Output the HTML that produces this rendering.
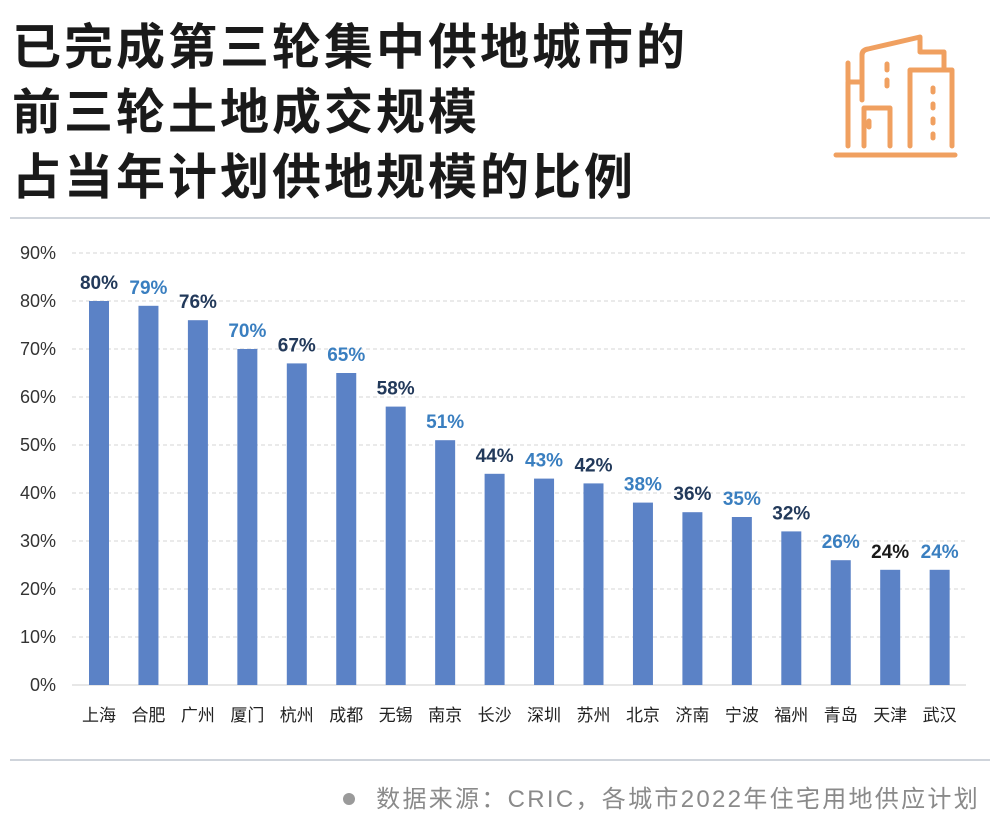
<!DOCTYPE html>
<html><head><meta charset="utf-8"><style>
body{margin:0;background:#fff;}
svg{display:block;font-family:"Liberation Sans","Noto Sans CJK SC",sans-serif;}
</style></head><body>
<svg width="1000" height="835" viewBox="0 0 1000 835" xmlns="http://www.w3.org/2000/svg">
<rect width="1000" height="835" fill="#fff"/>
<g font-size="49" font-weight="bold" fill="#1a1a1a" font-family="'Noto Sans CJK SC',sans-serif" letter-spacing="3">
<text x="12" y="64">已完成第三轮集中供地城市的</text>
<text x="12" y="129">前三轮土地成交规模</text>
<text x="12" y="194">占当年计划供地规模的比例</text>
</g>
<g fill="none" stroke="#f0a060" stroke-width="5" stroke-linecap="round" stroke-linejoin="round">
<line x1="836" y1="155" x2="955" y2="155"/>
<path d="M848 146 V82 H862"/><line x1="848" y1="63" x2="848" y2="80"/>
<path d="M864 146 V108 H890 V146"/>
<path d="M862 100 V55 Q862 50 868 49 L920 37 V52 H944 V68"/>
<path d="M910 146 V70 H952 V146"/>
<line x1="887" y1="64" x2="887" y2="70"/><line x1="887" y1="80" x2="887" y2="86"/>
<line x1="869" y1="121" x2="869" y2="127"/>
<line x1="933" y1="88" x2="933" y2="92"/><line x1="933" y1="104" x2="933" y2="108"/><line x1="933" y1="119" x2="933" y2="123"/><line x1="933" y1="134" x2="933" y2="138"/>
</g>
<line x1="10" y1="218" x2="990" y2="218" stroke="#bfc6cf" stroke-width="1.5"/>
<g stroke="#d4d4d4" stroke-dasharray="4,3" stroke-width="1">
<line x1="72" y1="253" x2="966" y2="253"/><line x1="72" y1="301" x2="966" y2="301"/><line x1="72" y1="349" x2="966" y2="349"/><line x1="72" y1="397" x2="966" y2="397"/><line x1="72" y1="445" x2="966" y2="445"/><line x1="72" y1="493" x2="966" y2="493"/><line x1="72" y1="541" x2="966" y2="541"/><line x1="72" y1="589" x2="966" y2="589"/><line x1="72" y1="637" x2="966" y2="637"/>
</g>
<line x1="72" y1="685" x2="966" y2="685" stroke="#cfcfcf"/>
<g font-size="18" fill="#333" text-anchor="end">
<text x="56" y="259">90%</text><text x="56" y="307">80%</text><text x="56" y="355">70%</text><text x="56" y="403">60%</text><text x="56" y="451">50%</text><text x="56" y="499">40%</text><text x="56" y="547">30%</text><text x="56" y="595">20%</text><text x="56" y="643">10%</text><text x="56" y="691">0%</text>
</g>
<g fill="#5b82c6">
<rect x="89" y="301" width="20" height="384"/>
<rect x="138.45" y="305.8" width="20" height="379.2"/>
<rect x="187.9" y="320.2" width="20" height="364.8"/>
<rect x="237.35" y="349" width="20" height="336"/>
<rect x="286.8" y="363.4" width="20" height="321.6"/>
<rect x="336.25" y="373" width="20" height="312"/>
<rect x="385.7" y="406.6" width="20" height="278.4"/>
<rect x="435.15" y="440.2" width="20" height="244.8"/>
<rect x="484.6" y="473.8" width="20" height="211.2"/>
<rect x="534.05" y="478.6" width="20" height="206.4"/>
<rect x="583.5" y="483.4" width="20" height="201.6"/>
<rect x="632.95" y="502.6" width="20" height="182.4"/>
<rect x="682.4" y="512.2" width="20" height="172.8"/>
<rect x="731.85" y="517" width="20" height="168"/>
<rect x="781.3" y="531.4" width="20" height="153.6"/>
<rect x="830.75" y="560.2" width="20" height="124.8"/>
<rect x="880.2" y="569.8" width="20" height="115.2"/>
<rect x="929.65" y="569.8" width="20" height="115.2"/>
</g>
<g font-size="19" font-weight="bold" text-anchor="middle">
<text x="99" y="289" fill="#22395a">80%</text>
<text x="148.45" y="293.8" fill="#3a7fc0">79%</text>
<text x="197.9" y="308.2" fill="#22395a">76%</text>
<text x="247.35" y="337" fill="#3a7fc0">70%</text>
<text x="296.8" y="351.4" fill="#22395a">67%</text>
<text x="346.25" y="361" fill="#3a7fc0">65%</text>
<text x="395.7" y="394.6" fill="#22395a">58%</text>
<text x="445.15" y="428.2" fill="#3a7fc0">51%</text>
<text x="494.6" y="461.8" fill="#22395a">44%</text>
<text x="544.05" y="466.6" fill="#3a7fc0">43%</text>
<text x="593.5" y="471.4" fill="#22395a">42%</text>
<text x="642.95" y="490.6" fill="#3a7fc0">38%</text>
<text x="692.4" y="500.2" fill="#22395a">36%</text>
<text x="741.85" y="505" fill="#3a7fc0">35%</text>
<text x="791.3" y="519.4" fill="#22395a">32%</text>
<text x="840.75" y="548.2" fill="#3a7fc0">26%</text>
<text x="890.2" y="557.8" fill="#1a1a1a">24%</text>
<text x="939.65" y="557.8" fill="#3a7fc0">24%</text>
</g>
<g font-size="17" fill="#222" text-anchor="middle">
<text x="99" y="721">上海</text><text x="148.45" y="721">合肥</text><text x="197.9" y="721">广州</text><text x="247.35" y="721">厦门</text><text x="296.8" y="721">杭州</text><text x="346.25" y="721">成都</text><text x="395.7" y="721">无锡</text><text x="445.15" y="721">南京</text><text x="494.6" y="721">长沙</text><text x="544.05" y="721">深圳</text><text x="593.5" y="721">苏州</text><text x="642.95" y="721">北京</text><text x="692.4" y="721">济南</text><text x="741.85" y="721">宁波</text><text x="791.3" y="721">福州</text><text x="840.75" y="721">青岛</text><text x="890.2" y="721">天津</text><text x="939.65" y="721">武汉</text>
</g>
<line x1="10" y1="760" x2="990" y2="760" stroke="#bfc6cf" stroke-width="1.5"/>
<circle cx="349" cy="799" r="6" fill="#9a9a9a"/>
<text x="980" y="807" text-anchor="end" font-size="24" fill="#8a8a8a" letter-spacing="2.3">数据来源：CRIC，各城市2022年住宅用地供应计划</text>
</svg>
</body></html>
